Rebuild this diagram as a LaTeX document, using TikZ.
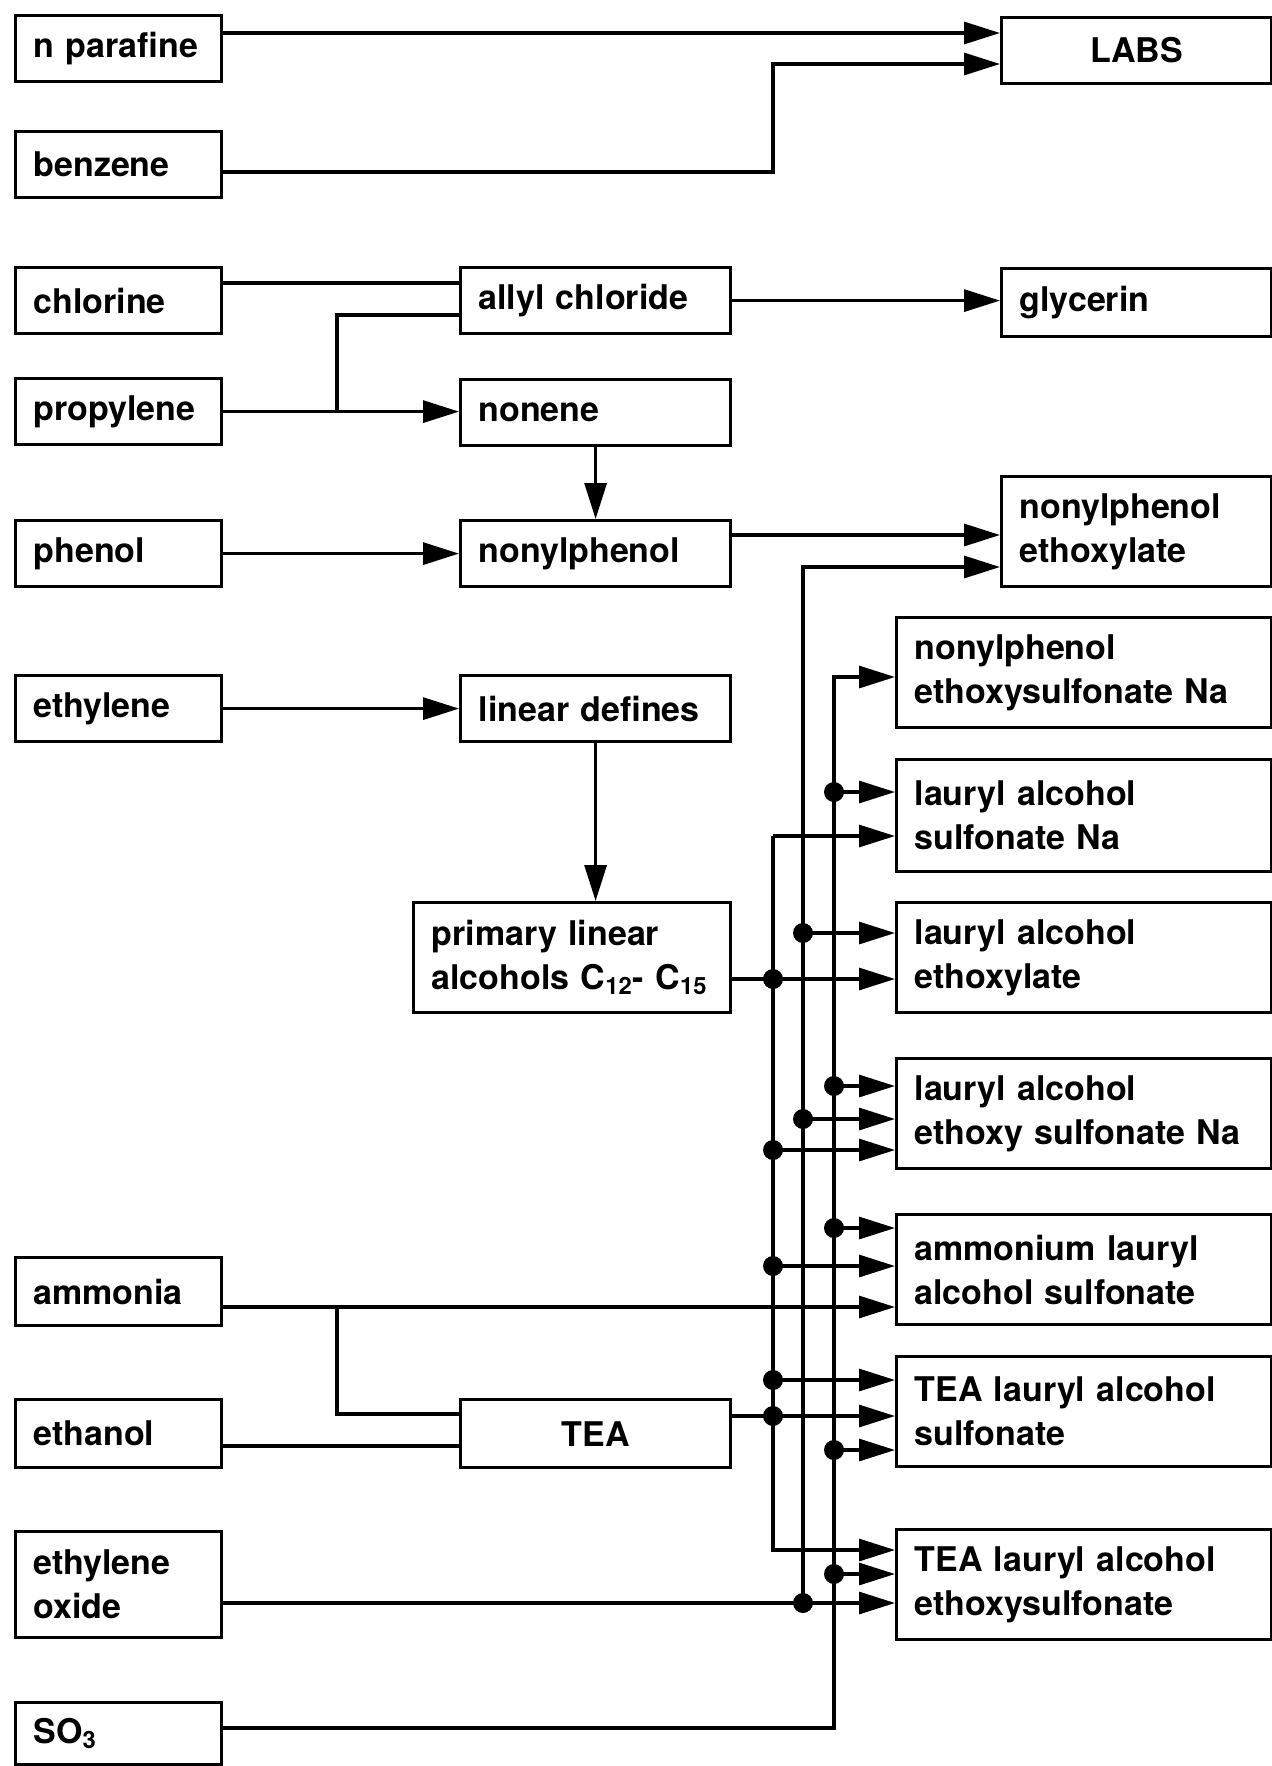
\documentclass[tikz,border=0pt]{standalone}
\usepackage{fontspec}
\setmainfont{TeX Gyre Heros}
\usetikzlibrary{arrows.meta, positioning}
\tikzset{
    chem_box/.style={
        draw,
        rectangle,
        line width=1.6pt,
        anchor=north west,
        inner xsep=9pt,
        inner ysep=0pt,
        align=left,
        font=\fontsize{17}{22}\selectfont\bfseries
    },
    feed_box/.style={
        chem_box,
        minimum width=103pt,
        text width=85pt
    },
    mid_box/.style={
        chem_box,
        minimum width=135pt,
        text width=117pt
    },
    prod_box/.style={
        chem_box,
        minimum width=187.5pt,
        text width=169.5pt
    },
    flow_line/.style={
        line width=1.6pt
    },
    flow_edge/.style={
        flow_line,
        -{Triangle[length=18pt, width=11pt]}
    },
    junction/.style={
        circle,
        fill,
        inner sep=0pt,
        minimum size=10pt
    }
}

\begin{document}
\begin{tikzpicture}[x=0.5pt, y=-0.5pt]
    \useasboundingbox (0,0) rectangle (1272,1766);

    \node[feed_box, minimum height=33pt] (npar) at (14,14) {n parafine};
    \node[feed_box, minimum height=33pt] (benz) at (14,130) {benzene};
    \node[feed_box, minimum height=33pt] (chlor) at (14,266) {chlorine};
    \node[feed_box, minimum height=33pt] (prop) at (14,377) {propylene};
    \node[feed_box, minimum height=33pt] (phen) at (14,519) {phenol};
    \node[feed_box, minimum height=33pt] (ethy) at (14,674) {ethylene};
    \node[feed_box, minimum height=34pt] (ammo) at (14,1256) {ammonia};
    \node[feed_box, minimum height=34pt] (ethan) at (14,1398) {ethanol};
    \node[feed_box, minimum height=53pt] (eox) at (14,1530) {ethylene\\oxide};
    \node[feed_box, minimum height=31pt] (sox) at (14,1701) {SO\textsubscript{3}};

    \node[mid_box, minimum height=33pt] (allyl) at (459,266) {allyl chloride};
    \node[mid_box, minimum height=33pt] (nonene) at (459,378) {nonene};
    \node[mid_box, minimum height=33pt] (nphen) at (459,519) {nonylphenol};
    \node[mid_box, minimum height=33pt] (olef) at (459,674) {linear defines};
    \node[chem_box, minimum width=158.5pt, text width=140.5pt, minimum height=55pt] (palc) at (412,901)
        {primary linear\\alcohols C\textsubscript{12}- C\textsubscript{15}};
    \node[mid_box, minimum height=34pt, align=center] (tea) at (459,1398) {TEA};

    \node[mid_box, minimum height=33pt, align=center] (labs) at (1000,16) {LABS};
    \node[mid_box, minimum height=34pt] (glyc) at (1000,267) {glycerin};
    \node[mid_box, minimum height=55pt] (npe) at (1000,475) {nonylphenol\\ethoxylate};
    \node[prod_box, minimum height=55pt] (npes) at (895,616) {nonylphenol\\ethoxysulfonate Na};
    \node[prod_box, minimum height=56pt] (lasn) at (895,758) {lauryl alcohol\\sulfonate Na};
    \node[prod_box, minimum height=55pt] (lae) at (895,901) {lauryl alcohol\\ethoxylate};
    \node[prod_box, minimum height=55pt] (laes) at (895,1057) {lauryl alcohol\\ethoxy sulfonate Na};
    \node[prod_box, minimum height=55pt] (alas) at (895,1213) {ammonium lauryl\\alcohol sulfonate};
    \node[prod_box, minimum height=55pt] (teas) at (895,1355) {TEA lauryl alcohol\\sulfonate};
    \node[prod_box, minimum height=55pt] (teaes) at (895,1528) {TEA lauryl alcohol\\ethoxysulfonate};

    \coordinate (alcbus) at (773,0);
    \coordinate (eobus) at (803,0);
    \coordinate (sobus) at (834,0);
    \coordinate (propsplit) at (337,410);
    \coordinate (amsplit) at (337,1307);

    \draw[flow_edge] (npar.east |- 0,33) -- (labs.west |- 0,33);
    \draw[flow_edge] (benz.east |- 0,172) -| (alcbus |- 0,64) -- (labs.west |- 0,64);
    \draw[flow_line] (chlor.east |- 0,283) -- (allyl.west |- 0,283);
    \draw[flow_edge] (prop.east) -- (prop.east -| nonene.west);
    \draw[flow_line] (propsplit) |- (allyl.west |- 0,315);
    \draw[flow_edge] (allyl.east) -- (allyl.east -| glyc.west);
    \draw[flow_edge] (nonene.south) -- (nphen.north);
    \draw[flow_edge] (phen.east) -- (phen.east -| nphen.west);
    \draw[flow_edge] (nphen.east |- 0,535) -- (npe.west |- 0,535);
    \draw[flow_edge] (ethy.east) -- (ethy.east -| olef.west);
    \draw[flow_edge] (olef.south) -- (olef.south |- palc.north);

    \draw[flow_edge] (palc.east |- 0,979) -- (lae.west |- 0,979);
    \draw[flow_edge] (alcbus |- 0,836) -- (lasn.west |- 0,836);
    \draw[flow_edge] (alcbus |- 0,836) -- (alcbus |- 0,1550) -- (teaes.west |- 0,1550);
    \draw[flow_edge] (eox.east |- 0,1603) -- (teaes.west |- 0,1603);
    \draw[flow_edge] (eobus |- 0,1603) -- (eobus |- 0,567) -- (npe.west |- 0,567);
    \draw[flow_edge] (sox.east |- 0,1728) -| (sobus |- 0,677) -- (npes.west |- 0,677);

    \draw[flow_edge] (ammo.east |- 0,1307) -- (alas.west |- 0,1307);
    \draw[flow_line] (amsplit) |- (tea.west |- 0,1414);
    \draw[flow_line] (ethan.east |- 0,1446) -- (tea.west |- 0,1446);
    \draw[flow_edge] (tea.east |- 0,1416) -- (teas.west |- 0,1416);

    \foreach \y/\t in {792/lasn, 1086/laes, 1228/alas, 1450/teas, 1574/teaes}
        \draw[flow_edge] (sobus |- 0,\y) node[junction] {} -- (\t.west |- 0,\y);
    \foreach \y/\t in {933/lae, 1119/laes}
        \draw[flow_edge] (eobus |- 0,\y) node[junction] {} -- (\t.west |- 0,\y);
    \foreach \y/\t in {1150/laes, 1266/alas, 1380/teas}
        \draw[flow_edge] (alcbus |- 0,\y) node[junction] {} -- (\t.west |- 0,\y);

    \node[junction] at (alcbus |- 0,979) {};
    \node[junction] at (alcbus |- 0,1416) {};
    \node[junction] at (eobus |- 0,1603) {};
\end{tikzpicture}
\end{document}
